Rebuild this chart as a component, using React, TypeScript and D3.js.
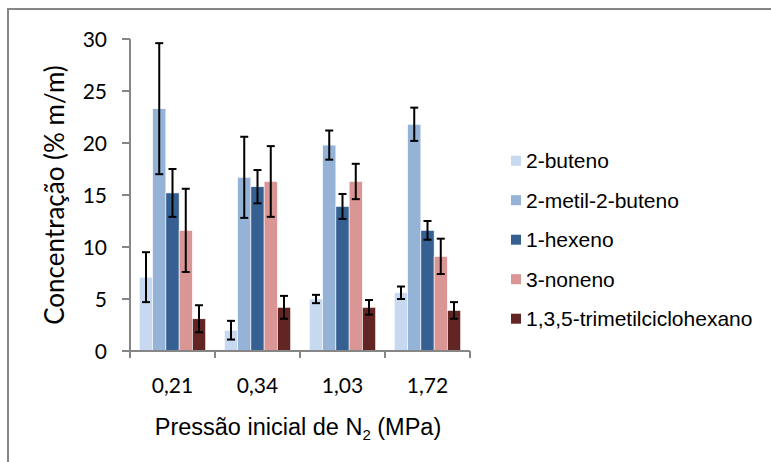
import React from 'react';
import * as d3 from 'd3';

const categories = ['0,21', '0,34', '1,03', '1,72'];
const seriesNames = ['2-buteno', '2-metil-2-buteno', '1-hexeno', '3-noneno', '1,3,5-trimetilciclohexano'];
const seriesColors = ['#c6d9f1', '#95b3d7', '#366092', '#da9694', '#632523'];

// concentration per series, one value per pressure
const buteno = [7.1, 2.0, 5.0, 5.6];
const metilButeno = [23.3, 16.7, 19.8, 21.8];
const hexeno = [15.2, 15.8, 13.9, 11.6];
const noneno = [11.6, 16.3, 16.3, 9.1];
const trimetil = [3.1, 4.2, 4.2, 3.9];

// error bars (+/-)
const butenoErr = [2.4, 0.9, 0.4, 0.6];
const metilButenoErr = [6.3, 3.9, 1.4, 1.6];
const hexenoErr = [2.3, 1.6, 1.2, 0.9];
const nonenoErr = [4.0, 3.4, 1.7, 1.7];
const trimetilErr = [1.3, 1.1, 0.7, 0.8];

const yTicks = [0, 5, 10, 15, 20, 25, 30];

const values = [buteno, metilButeno, hexeno, noneno, trimetil];
const errors = [butenoErr, metilButenoErr, hexenoErr, nonenoErr, trimetilErr];

const W = 771;
const H = 462;
const left = 130;
const right = 470;
const top = 39;
const bottom = 351;
const axisColor = '#868686';

export default function App() {
  const x0 = d3.scaleBand<string>().domain(categories).range([left, right]).paddingInner(0.22).paddingOuter(0.11);
  const x1 = d3.scaleBand<string>().domain(seriesNames).range([0, x0.bandwidth()]);
  const y = d3.scaleLinear().domain([0, 30]).range([bottom, top]);

  const calibri = 'Lato, Carlito, Calibri, sans-serif';
  const arial = '"Liberation Sans", Arial, sans-serif';

  return (
    <svg width={W} height={H} style={{ position: 'absolute', left: 0, top: 0, background: '#fff' }}>
      <rect x={8} y={9} width={900} height={600} fill="#fff" stroke="#868686" strokeWidth={2} />

      {/* bars */}
      {seriesNames.map((s, si) => (
        <g key={s}>
          {categories.map((c, ci) => {
            const bx = (x0(c) ?? 0) + (x1(s) ?? 0);
            const v = values[si][ci];
            return (
              <rect key={c} x={bx} y={y(v)} width={x1.bandwidth()} height={y(0) - y(v)}
                fill={seriesColors[si]} stroke="#fff" strokeWidth={0.6} />
            );
          })}
        </g>
      ))}

      {/* error bars */}
      {seriesNames.map((s, si) => (
        <g key={s} stroke="#000" strokeWidth={2}>
          {categories.map((c, ci) => {
            const cx = (x0(c) ?? 0) + (x1(s) ?? 0) + x1.bandwidth() / 2;
            const v = values[si][ci];
            const e = errors[si][ci];
            const y1 = y(v + e);
            const y2 = y(v - e);
            return (
              <g key={c}>
                <line x1={cx} x2={cx} y1={y1} y2={y2} />
                <line x1={cx - 4} x2={cx + 4} y1={y1} y2={y1} />
                <line x1={cx - 4} x2={cx + 4} y1={y2} y2={y2} />
              </g>
            );
          })}
        </g>
      ))}

      {/* y axis */}
      <line x1={left} x2={left} y1={top} y2={bottom} stroke={axisColor} strokeWidth={2} />
      {yTicks.map(t => (
        <g key={t}>
          <line x1={left - 8} x2={left} y1={y(t)} y2={y(t)} stroke={axisColor} strokeWidth={2} />
          <text x={107} y={y(t)} dy="0.36em" textAnchor="end" fontFamily={calibri} fontSize={21} fill="#000">{t}</text>
        </g>
      ))}

      {/* x axis */}
      <line x1={left} x2={right} y1={bottom} y2={bottom} stroke={axisColor} strokeWidth={2} />
      {[...categories.map(c => x0(c)! - x0.step() * x0.paddingInner() / 2), right].map((bx, i) => (
        <line key={i} x1={bx} x2={bx} y1={bottom} y2={bottom + 7} stroke={axisColor} strokeWidth={2} />
      ))}
      {categories.map(c => (
        <text key={c} x={(x0(c) ?? 0) + x0.bandwidth() / 2} y={393} textAnchor="middle" fontFamily={calibri} fontSize={21} fill="#000">{c}</text>
      ))}

      {/* axis titles */}
      <text transform={`translate(64,${(top + bottom) / 2}) rotate(-90)`} textAnchor="middle" fontFamily={calibri} fontSize={26} fill="#000">
        Concentração (% m/m)
      </text>
      <text x={(left + right) / 2 - 2} y={435} textAnchor="middle" fontFamily={arial} fontSize={23.5} fill="#000">
        Pressão inicial de N<tspan fontSize={15} dy={5}>2</tspan><tspan dy={-5}> (MPa)</tspan>
      </text>

      {/* legend */}
      {seriesNames.map((s, si) => {
        const ly = 160.7 + si * 39.5;
        return (
          <g key={s}>
            <rect x={511} y={ly - 5} width={10} height={10} fill={seriesColors[si]} />
            <text x={526} y={ly} dy="0.36em" fontFamily={arial} fontSize={21} fill="#000">{s}</text>
          </g>
        );
      })}
    </svg>
  );
}
